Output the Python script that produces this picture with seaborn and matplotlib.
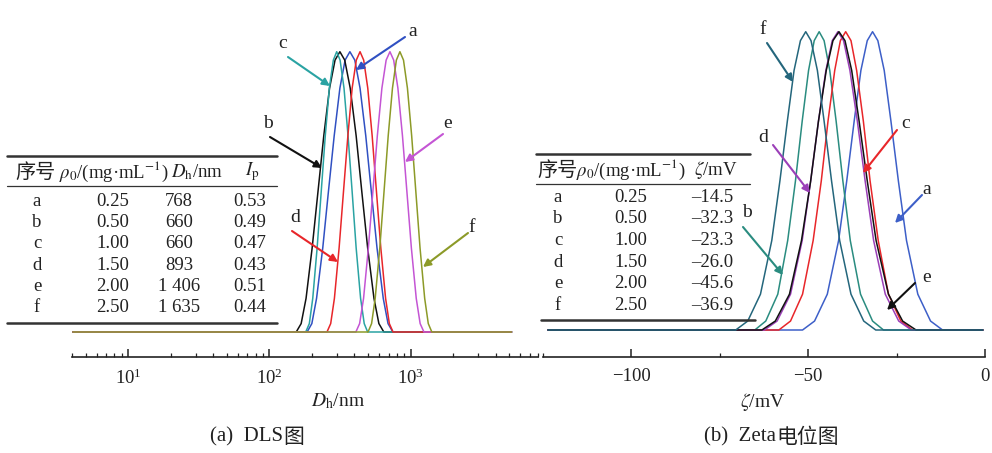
import numpy as np
import pandas as pd
import matplotlib
matplotlib.use("Agg")
import matplotlib.pyplot as plt
import seaborn as sns
from matplotlib.ticker import LogLocator, MultipleLocator, NullFormatter
from matplotlib.lines import Line2D

# ---------------- data ----------------
curve_labels = ["a", "b", "c", "d", "e", "f"]
# relative intensity levels shared by every distribution curve
level = [0, 0.03, 0.12, 0.3, 0.5, 0.7, 0.87, 0.97, 1.0, 0.97, 0.87, 0.7, 0.5, 0.3, 0.12, 0.03, 0]

# DLS: hydrodynamic diameter (nm) at each level
dls_a = [185, 200, 216, 239, 262, 288, 316, 344, 372, 403, 439, 482, 528, 579, 641, 693, 750]
dls_b = [155, 168, 182, 201, 221, 243, 267, 292, 316, 342, 374, 412, 452, 497, 551, 597, 647]
dls_c = [181, 192, 203, 218, 233, 249, 266, 284, 300, 317, 338, 361, 386, 412, 443, 470, 497]
dls_d = [256, 272, 289, 312, 335, 360, 386, 413, 439, 466, 498, 535, 574, 616, 666, 708, 752]
dls_e = [410, 436, 465, 503, 541, 582, 627, 672, 715, 760, 814, 877, 943, 1014, 1098, 1170, 1245]
dls_f = [500, 530, 562, 606, 649, 695, 745, 794, 841, 892, 951, 1019, 1091, 1168, 1260, 1336, 1416]
dls_span = [4.05, 5200]

# Zeta potential (mV) at each level
zeta_a = [-51.6, -48.2, -44.6, -41.4, -39.1, -37.0, -35.1, -33.3, -31.8, -30.3, -28.5, -26.6, -24.5, -22.2, -19.0, -15.4, -12.0]
zeta_b = [-65.1, -62.0, -58.6, -55.8, -53.6, -51.7, -49.9, -48.3, -46.9, -45.5, -43.9, -42.1, -40.2, -38.1, -35.2, -31.8, -28.7]
zeta_c = [-58.3, -55.0, -51.6, -48.6, -46.3, -44.4, -42.5, -40.9, -39.4, -37.9, -36.3, -34.4, -32.5, -30.2, -27.3, -23.8, -20.5]
zeta_d = [-62.4, -58.8, -55.0, -51.7, -49.3, -47.1, -45.0, -43.2, -41.6, -40.0, -38.2, -36.1, -33.9, -31.5, -28.2, -24.4, -20.8]
zeta_e = [-63.1, -59.3, -55.3, -51.9, -49.3, -47.1, -44.9, -43.0, -41.3, -39.6, -37.7, -35.6, -33.3, -30.8, -27.3, -23.3, -19.5]
zeta_f = [-70.5, -67.1, -63.5, -60.3, -58.0, -55.9, -54.0, -52.2, -50.7, -49.2, -47.4, -45.5, -43.4, -41.1, -37.9, -34.3, -30.9]
zeta_span = [-123.6, -0.6]

# table contents
tbl_conc = ["0.25", "0.50", "1.00", "1.50", "2.00", "2.50"]
tbl_dh = ["768", "660", "660", "893", "1 406", "1 635"]
tbl_ip = ["0.53", "0.49", "0.47", "0.43", "0.51", "0.44"]
tbl_zeta = ["\u201314.5", "\u201332.3", "\u201323.3", "\u201326.0", "\u201345.6", "\u201336.9"]

dls_colors = ["#3050c2", "#111111", "#2aa3a3", "#e8262a", "#c455d4", "#8c9a28"]
zeta_colors = ["#3d5fc8", "#2a8c80", "#e8262a", "#9b3fb8", "#111111", "#24667c"]

# ---------------- style ----------------
sns.set_theme(style="white")
plt.rcParams["font.family"] = ["Liberation Serif", "Noto Sans CJK SC"]
plt.rcParams["mathtext.fontset"] = "stix"
TXT = "#222222"

W, H = 992, 453
fig = plt.figure(figsize=(W / 100, H / 100), dpi=100)


def fx(px):
    return px / W


def fy(py):
    return 1 - py / H


def build(series, span):
    rows = []
    for lab, xs in zip(curve_labels, series):
        xx = [span[0]] + list(xs) + [span[1]]
        yy = [0] + list(level) + [0]
        for x, y in zip(xx, yy):
            rows.append({"curve": lab, "x": x, "y": y})
    return pd.DataFrame(rows)


df_dls = build([dls_a, dls_b, dls_c, dls_d, dls_e, dls_f], dls_span)
df_zeta = build([zeta_a, zeta_b, zeta_c, zeta_d, zeta_e, zeta_f], zeta_span)

axL = fig.add_axes([fx(72), 1 - 357 / H, 466 / W, 347 / H])
axR = fig.add_axes([fx(543), 1 - 357 / H, 442 / W, 347 / H])

sns.lineplot(data=df_dls, x="x", y="y", hue="curve", hue_order=curve_labels,
             palette=dict(zip(curve_labels, dls_colors)), sort=False,
             estimator=None, legend=False, lw=1.1, ax=axL)
sns.lineplot(data=df_zeta, x="x", y="y", hue="curve", hue_order=curve_labels,
             palette=dict(zip(curve_labels, zeta_colors)), sort=False,
             estimator=None, legend=False, lw=1.1, ax=axR)

axL.set_xscale("log")
axL.set_xlim(4.0, 8000)
axL.set_ylim(-0.0892, 1.1488)
axL.xaxis.set_major_locator(LogLocator(base=10, numticks=10))
axL.xaxis.set_minor_locator(LogLocator(base=10, subs=np.arange(2, 10), numticks=100))
axL.xaxis.set_minor_formatter(NullFormatter())

axR.set_xlim(-125, 0)
axR.set_ylim(-0.0905, 1.0727)
axR.xaxis.set_major_locator(MultipleLocator(50))
axR.xaxis.set_minor_locator(MultipleLocator(25))

for ax in (axL, axR):
    sns.despine(ax=ax, left=True)
    ax.set_yticks([])
    ax.set_xlabel("")
    ax.set_ylabel("")
    ax.patch.set_alpha(0)
    ax.spines["bottom"].set_color("#222222")
    ax.spines["bottom"].set_linewidth(1.2)
    ax.tick_params(axis="x", which="major", direction="in", length=6, width=1.1,
                   pad=8, labelsize=13.5, colors="#222222", bottom=True)
    ax.tick_params(axis="x", which="minor", direction="in", length=3, width=0.9,
                   colors="#222222", bottom=True)

# axis titles
fig.text(fx(338), fy(401), r"$D_{\mathrm{h}}$/nm", ha="center", va="center", fontsize=14, color=TXT)
fig.text(fx(763), fy(402), r"$\zeta$/mV", ha="center", va="center", fontsize=14, color=TXT)

# captions: Latin part in serif, Chinese part in CJK font, placed side by side
renderer = fig.canvas.get_renderer()


def caption(x_left, y, latin, cjk):
    t1 = fig.text(fx(x_left), fy(y), latin, ha="left", va="center", fontsize=15,
                  color=TXT, family=["Liberation Serif"])
    bb = t1.get_window_extent(renderer=renderer)
    fig.text(bb.x1 / W + 0.5 / W, fy(y), cjk, ha="left", va="center", fontsize=15,
             color=TXT, family=["Noto Sans CJK SC"])


caption(210, 437, "(a)  DLS", "图")
caption(704, 437, "(b)  Zeta", "电位图")


def hline(x0, x1, y, lw):
    fig.add_artist(Line2D([fx(x0), fx(x1)], [fy(y), fy(y)], lw=lw, color="#333333"))


def t(x, y, s, size=13.5, **kw):
    fig.text(fx(x), fy(y), s, ha="center", va="center", fontsize=size, color=TXT, **kw)


# ---- left table ----
hline(7, 277, 155.5, 1.8)
hline(7, 277, 186, 0.9)
hline(7, 277, 322.5, 1.8)
t(35, 172, "序号", size=14.5, family=["Noto Sans CJK SC"])
t(114, 172, r"$\rho_0$/(mg·mL$^{-1}$)")
t(197, 172, r"$D_{\mathrm{h}}$/nm")
t(252, 172, r"$I_{\mathrm{p}}$")
rows_yL = [201.5, 222.7, 243.9, 265.1, 286.3, 307.5]
for i, y in enumerate(rows_yL):
    t(37, y, curve_labels[i])
    t(113, y, tbl_conc[i])
    t(179, y, tbl_dh[i])
    t(250, y, tbl_ip[i])

# ---- right table ----
hline(536, 750, 154, 1.8)
hline(536, 750, 184.3, 0.9)
hline(541, 755, 320, 1.8)
t(557, 170, "序号", size=14.5, family=["Noto Sans CJK SC"])
t(631, 170, r"$\rho_0$/(mg·mL$^{-1}$)")
t(716, 170, r"$\zeta$/mV")
rows_yR = [197, 218.3, 240, 262.2, 284, 305]
for i, y in enumerate(rows_yR):
    t(558, y, curve_labels[i])
    t(630.5, y, tbl_conc[i])
    t(712.5, y, tbl_zeta[i])


# ---- curve labels with arrows ----
def pointer(lab, txy, tail, head, color, ax):
    t(txy[0], txy[1], lab, size=14)
    ax.annotate("", xy=(head[0], H - head[1]), xytext=(tail[0], H - tail[1]),
                xycoords="figure pixels", textcoords="figure pixels",
                annotation_clip=False,
                arrowprops=dict(arrowstyle="-|>", color=color, lw=1.5,
                                mutation_scale=11, shrinkA=0, shrinkB=0))


cL = dict(zip(curve_labels, dls_colors))
pointer("a", (413, 31), (405, 37), (356, 70), cL["a"], axL)
pointer("c", (283, 43), (288, 57), (330, 86), cL["c"], axL)
pointer("b", (268, 123), (270, 137), (322, 168), cL["b"], axL)
pointer("d", (295, 218), (292, 231), (338, 262), cL["d"], axL)
pointer("e", (448, 123), (443, 134), (405, 162), cL["e"], axL)
pointer("f", (472, 227), (468, 233), (423, 267), cL["f"], axL)

cR = dict(zip(curve_labels, zeta_colors))
pointer("f", (763, 29), (767, 43), (793, 82), cR["f"], axR)
pointer("d", (763, 138), (773, 145), (810, 193), cR["d"], axR)
pointer("c", (906, 123), (897, 130), (863, 173), cR["c"], axR)
pointer("a", (927, 190), (922, 195), (895, 223), cR["a"], axR)
pointer("b", (747, 213), (743, 227), (783, 275), cR["b"], axR)
pointer("e", (927, 277), (915, 283), (887, 310), cR["e"], axR)

fig.savefig("out.png", dpi=100)
